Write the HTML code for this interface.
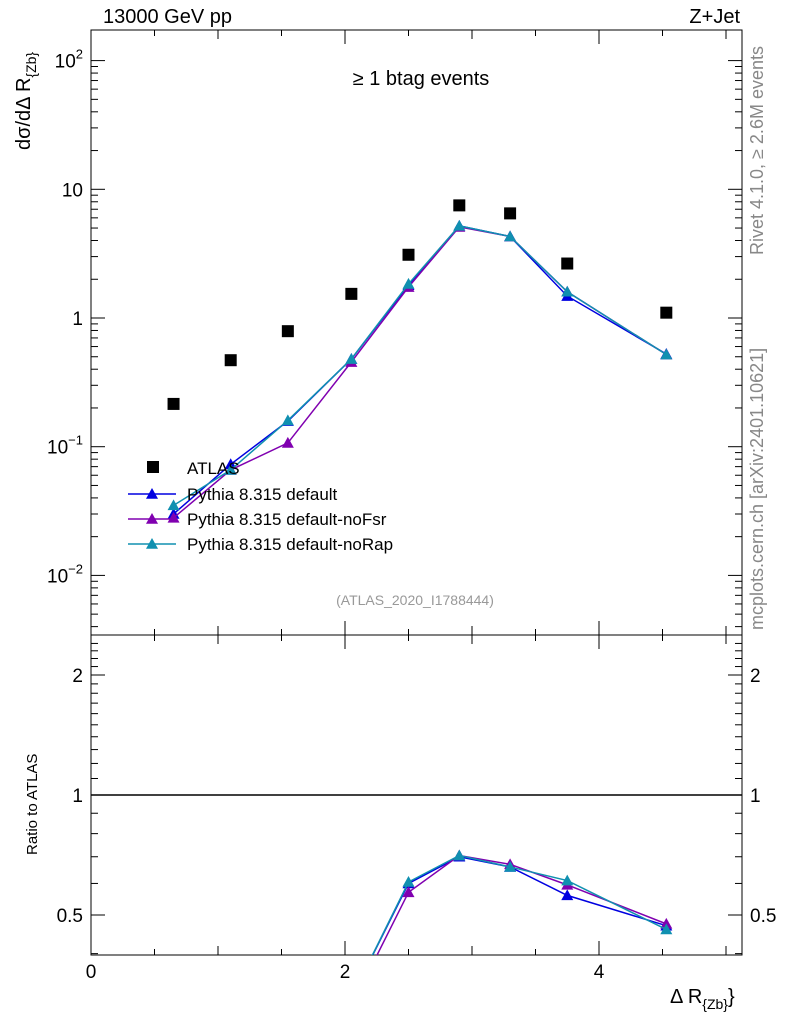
<!DOCTYPE html>
<html><head><meta charset="utf-8">
<style>
body{margin:0;background:#fff;overflow:hidden;}
svg{display:block;font-family:"Liberation Sans",sans-serif;}
</style></head>
<body>
<svg id="chart" width="786" height="1024" viewBox="0 0 786 1024" xmlns="http://www.w3.org/2000/svg"></svg>
<script>
const xVals=[0.65,1.1,1.55,2.05,2.5,2.9,3.3,3.75,4.53];
const atlasVals=[0.215,0.47,0.79,1.54,3.1,7.5,6.5,2.65,1.1];
const defVals=[0.030,0.073,0.158,0.48,1.8,5.2,4.3,1.48,0.525];
const nofsrVals=[0.028,0.066,0.107,0.455,1.74,5.1,4.3,1.6,0.52];
const norapVals=[0.035,0.066,0.16,0.48,1.84,5.2,4.3,1.6,0.52];
const defRatio=[0.14,0.155,0.2,0.31,0.60,0.70,0.66,0.56,0.47];
const nofsrRatio=[0.13,0.14,0.135,0.295,0.57,0.705,0.67,0.595,0.475];
const norapRatio=[0.16,0.14,0.2,0.31,0.605,0.705,0.66,0.61,0.46];
const xTicks=[0,2,4];
const yMainTicks=[-2,-1,0,1,2];
const yRatioTicks=[0.5,1,2];

const NS="http://www.w3.org/2000/svg";
const svg=document.getElementById('chart');
function el(tag,attrs,parent){const e=document.createElementNS(NS,tag);for(const k in attrs)e.setAttribute(k,attrs[k]);(parent||svg).appendChild(e);return e;}
const L=91,R=742,T=30,MB=635,RB=955;
const xs=v=>L+(v)*127;
const ys=v=>318-Math.log10(v)*128.7;
const yr=v=>795-Math.log2(v)*120;

const defs=el('defs',{});
const c1=el('clipPath',{id:'cm'},defs);el('rect',{x:L,y:T,width:R-L,height:MB-T},c1);
const c2=el('clipPath',{id:'cr'},defs);el('rect',{x:L,y:MB,width:R-L,height:RB-MB},c2);

let f=el('rect',{x:L,y:T,width:R-L,height:MB-T,fill:'none',stroke:'#000','stroke-width':1});

f=el('rect',{x:L,y:MB,width:R-L,height:RB-MB,fill:'none',stroke:'#000','stroke-width':1});


for(let v=0;v<=5.1;v+=0.5){
  const len=(Math.abs(v%1)<1e-6)?( (Math.abs(v%2)<1e-6)?14:9 ):6;
  const x=xs(v); if(x>R)continue;
  el('line',{x1:x,x2:x,y1:MB,y2:MB-len,stroke:'#000'});
  el('line',{x1:x,x2:x,y1:T,y2:T+len,stroke:'#000'});
  el('line',{x1:x,x2:x,y1:RB,y2:RB-len,stroke:'#000'});
  el('line',{x1:x,x2:x,y1:MB,y2:MB+len,stroke:'#000'});
}
xTicks.forEach(v=>{const t=el('text',{x:xs(v),y:978,'font-size':19,'text-anchor':'middle'});t.textContent=v;
});

for(let d=-3;d<=2;d++){for(let m=1;m<10;m++){const v=m*Math.pow(10,d);const y=ys(v);if(y<T||y>MB)continue;const len=m==1?14:7;
 el('line',{x1:L,x2:L+len,y1:y,y2:y,stroke:'#000'});el('line',{x1:R,x2:R-len,y1:y,y2:y,stroke:'#000'});}}
yMainTicks.forEach(d=>{const y=ys(Math.pow(10,d));const g=el('text',{x:L-8,y:y+7,'font-size':19,'text-anchor':'end'});
 
 if(d==0)g.textContent='1';else if(d==1)g.textContent='10';else{g.textContent='10';const s=el('tspan',{dy:-9,'font-size':13},g);s.textContent=String(d).replace('-','\u2212');}
});

for(let v=0.4;v<=2.5;v+=0.1){const y=yr(v);if(y<MB||y>RB)continue;const major=[0.5,1,2].some(q=>Math.abs(q-v)<1e-6);const len=major?14:7;
 el('line',{x1:L,x2:L+len,y1:y,y2:y,stroke:'#000'});el('line',{x1:R,x2:R-len,y1:y,y2:y,stroke:'#000'});}
yRatioTicks.forEach(v=>{const y=yr(v);let t=el('text',{x:L-8,y:y+7,'font-size':19,'text-anchor':'end'});t.textContent=v;

t=el('text',{x:R+8,y:y+7,'font-size':19});t.textContent=v;
});
el('line',{x1:L,x2:R,y1:yr(1),y2:yr(1),stroke:'#000','stroke-width':1.5});

function tri(g,x,y,c,s){el('polygon',{points:`${x},${y-s} ${x-s},${y+s*0.8} ${x+s},${y+s*0.8}`,fill:c},g);}
const series=[['pythia-default',defVals,defRatio,'#0000e0'],['pythia-nofsr',nofsrVals,nofsrRatio,'#8000b0'],['pythia-norap',norapVals,norapRatio,'#1090b0']];
series.forEach(([n,vals,rat,c])=>{
 let g=el('g',{'clip-path':'url(#cm)'});
 el('polyline',{points:xVals.map((x,i)=>xs(x)+','+ys(vals[i])).join(' '),fill:'none',stroke:c,'stroke-width':1.5},g);
 xVals.forEach((x,i)=>tri(g,xs(x),ys(vals[i]),c,6));
 g=el('g',{'clip-path':'url(#cr)'});
 el('polyline',{points:xVals.map((x,i)=>xs(x)+','+yr(rat[i])).join(' '),fill:'none',stroke:c,'stroke-width':1.5},g);
 xVals.forEach((x,i)=>tri(g,xs(x),yr(rat[i]),c,6));
});
let ga=el('g',{'clip-path':'url(#cm)'});
xVals.forEach((x,i)=>el('rect',{x:xs(x)-6,y:ys(atlasVals[i])-6,width:12,height:12,fill:'#000'},ga));

const leg=el('g',{});
el('rect',{x:147,y:461,width:12,height:12,fill:'#000'},leg);
let t=el('text',{x:187,y:474,'font-size':17},leg);t.textContent='ATLAS';
[['Pythia 8.315 default','#0000e0',494],['Pythia 8.315 default-noFsr','#8000b0',519],['Pythia 8.315 default-noRap','#1090b0',544]].forEach(([s,c,y])=>{
 el('line',{x1:128,x2:176,y1:y,y2:y,stroke:c,'stroke-width':1.5},leg);tri(leg,152,y,c,6);
 const tt=el('text',{x:187,y:y+6,'font-size':17},leg);tt.textContent=s;});

function txt(s,a,name){const e=el('text',a);e.textContent=s;return e;}
txt('13000 GeV pp',{x:103,y:23,'font-size':20},'energy-label');
txt('Z+Jet',{x:740,y:23,'font-size':20,'text-anchor':'end'},'process-label');
txt('\u2265 1 btag events',{x:421,y:85,'font-size':20,'text-anchor':'middle'},'plot-title');
txt('(ATLAS_2020_I1788444)',{x:415,y:605,'font-size':14,'text-anchor':'middle',fill:'#999'},'analysis-id');
txt('Rivet 4.1.0, \u2265 2.6M events',{x:0,y:0,'font-size':18,fill:'#888',transform:'translate(763,255) rotate(-90)'},'rivet-label');
txt('mcplots.cern.ch [arXiv:2401.10621]',{x:0,y:0,'font-size':18,fill:'#888',transform:'translate(763,630) rotate(-90)'},'mcplots-label');
let yl=txt('',{x:0,y:0,'font-size':20,transform:'translate(30,150) rotate(-90)'},'y-axis-title');
yl.textContent='d\u03c3/d\u0394 R';let sp=el('tspan',{dy:6,'font-size':14},yl);sp.textContent='{Zb}';
txt('Ratio to ATLAS',{x:0,y:0,'font-size':15,transform:'translate(37,855) rotate(-90)'},'ratio-axis-title');
let xl=txt('\u0394 R',{x:670,y:1003,'font-size':20},'x-axis-title');
sp=el('tspan',{dy:6,'font-size':14},xl);sp.textContent='{Zb}';sp=el('tspan',{dy:-6,'font-size':20},xl);sp.textContent='}';
</script>
</body></html>
